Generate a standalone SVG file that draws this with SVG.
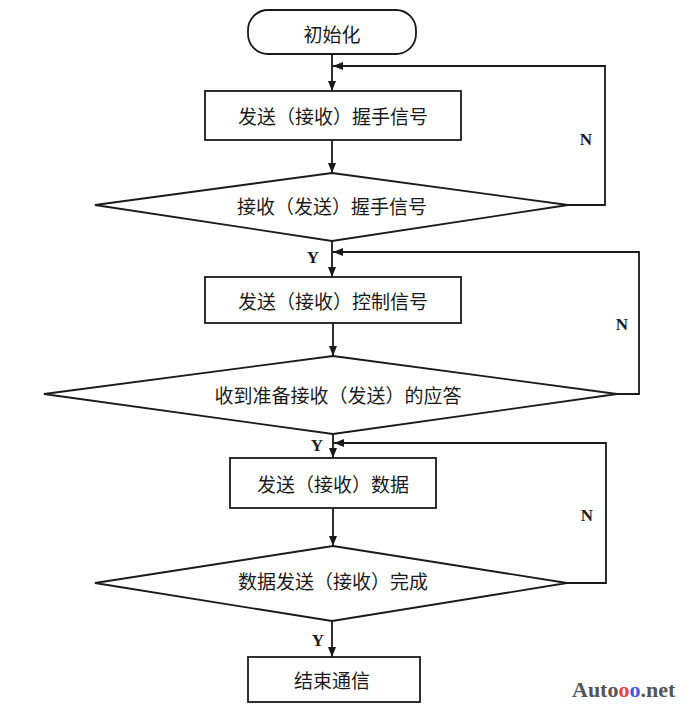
<svg xmlns="http://www.w3.org/2000/svg" width="690" height="714" viewBox="0 0 690 714">
<defs>
<marker id="ah" viewBox="0 0 10 8" refX="10" refY="4" markerWidth="10" markerHeight="8" markerUnits="userSpaceOnUse" orient="auto">
<path d="M0,0 L10,4 L0,8 Z" fill="#1a1a1a"/>
</marker>
<style>
.shape{fill:#fff;stroke:#1a1a1a;stroke-width:1.8}
.conn{fill:none;stroke:#1a1a1a;stroke-width:1.8}
.t{font-family:"Noto Sans CJK SC","Noto Sans CJK TC",sans-serif;font-size:19px;fill:#1a1a1a;text-anchor:middle;dominant-baseline:central}
.yn{font-family:"Liberation Serif",serif;font-size:17px;font-weight:bold;fill:#1a1a1a;text-anchor:middle;dominant-baseline:central}
.wm{font-family:"Liberation Serif",serif;font-size:22px;font-weight:bold;fill:#555}
</style>
</defs>
<rect width="690" height="714" fill="#fff"/>
<g id="connectors">
<path class="conn" d="M332,54 L332,91" marker-end="url(#ah)"/>
<path class="conn" d="M332,140 L332,173" marker-end="url(#ah)"/>
<path class="conn" d="M568,205 L605,205 L605,66 L333,66" marker-end="url(#ah)"/>
<path class="conn" d="M332,241 L332,277" marker-end="url(#ah)"/>
<path class="conn" d="M617,394 L639,394 L639,252 L333,252" marker-end="url(#ah)"/>
<path class="conn" d="M333,323 L333,356" marker-end="url(#ah)"/>
<path class="conn" d="M333,434 L333,458" marker-end="url(#ah)"/>
<path class="conn" d="M567,583 L606,583 L606,443 L334,443" marker-end="url(#ah)"/>
<path class="conn" d="M333,508 L333,546" marker-end="url(#ah)"/>
<path class="conn" d="M332,621 L332,657" marker-end="url(#ah)"/>
<text class="yn" x="586" y="139">N</text>
<text class="yn" x="313" y="257">Y</text>
<text class="yn" x="622" y="324">N</text>
<text class="yn" x="317" y="445">Y</text>
<text class="yn" x="587" y="515">N</text>
<text class="yn" x="318" y="640">Y</text>
</g>
<g id="init">
<rect class="shape" x="248" y="10" width="168" height="44" rx="20" ry="20"/>
<text class="t" x="332" y="33">初始化</text>
</g>
<g id="send-handshake">
<rect class="shape" x="205" y="91" width="256" height="49"/>
<text class="t" x="333" y="115">发送（接收）握手信号</text>
</g>
<g id="recv-handshake">
<polygon class="shape" points="332,173 568,205 332,241 95,205"/>
<text class="t" x="332" y="205">接收（发送）握手信号</text>
</g>
<g id="send-control">
<rect class="shape" x="205" y="277" width="256" height="46"/>
<text class="t" x="333" y="300">发送（接收）控制信号</text>
</g>
<g id="ack">
<polygon class="shape" points="333,356 617,394 333,434 44,394"/>
<text class="t" x="338" y="394">收到准备接收（发送）的应答</text>
</g>
<g id="send-data">
<rect class="shape" x="230" y="458" width="206" height="50"/>
<text class="t" x="333" y="483">发送（接收）数据</text>
</g>
<g id="data-done">
<polygon class="shape" points="333,546 567,583 332,621 95,583"/>
<text class="t" x="333" y="580">数据发送（接收）完成</text>
</g>
<g id="end">
<rect class="shape" x="248" y="657" width="172" height="45"/>
<text class="t" x="332" y="679">结束通信</text>
</g>
<text class="wm" x="572" y="697">Aut<tspan>o</tspan><tspan fill="#e0443c">o</tspan><tspan fill="#3f5bd6">o</tspan>.net</text>
</svg>
